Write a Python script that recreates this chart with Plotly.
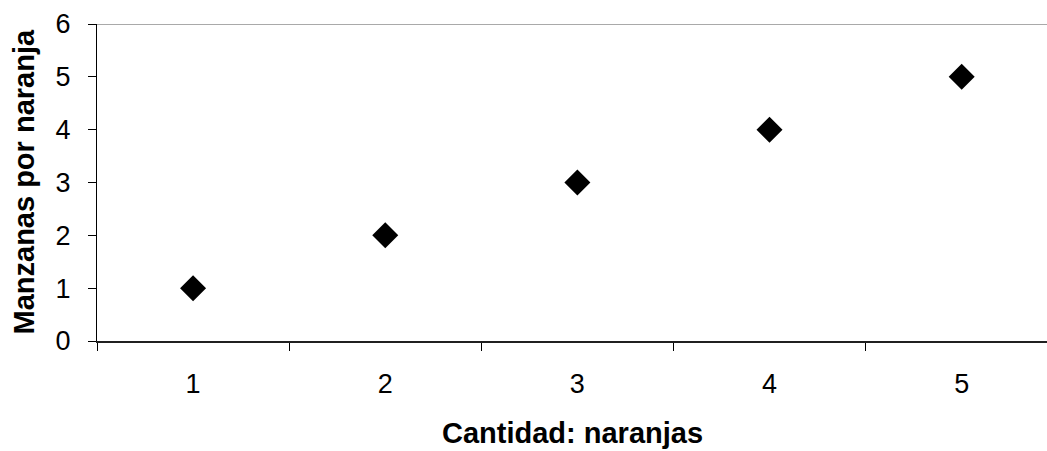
import plotly.graph_objects as go

categories = ["1", "2", "3", "4", "5"]
values = [1, 2, 3, 4, 5]
y_ticks = [0, 1, 2, 3, 4, 5, 6]
x_title = "Cantidad: naranjas"
y_title = "Manzanas por naranja"

FONT = "Liberation Sans, Arial, sans-serif"

fig = go.Figure()
fig.add_trace(go.Scatter(
    x=categories, y=values, mode="markers",
    marker=dict(symbol="diamond", size=20, color="black", line=dict(width=0)),
    showlegend=False,
))

fig.update_layout(
    width=1047, height=451,
    margin=dict(l=97, r=0, t=24, b=110, autoexpand=False),
    paper_bgcolor="white", plot_bgcolor="white",
    font=dict(family=FONT, size=27, color="black"),
    xaxis=dict(
        type="category", range=[-0.5, 4.444], tickson="boundaries",
        ticks="outside", ticklen=8, tickcolor="black", tickwidth=1,
        showline=True, linecolor="#202020", linewidth=1.5,
        showgrid=False, zeroline=False, ticklabelstandoff=18,
        tickfont=dict(size=27),
    ),
    yaxis=dict(
        range=[0, 6], tickvals=y_ticks, ticks="outside", ticklen=8,
        tickcolor="black", tickwidth=1,
        showline=True, linecolor="black", linewidth=1,
        showgrid=False, zeroline=False, ticklabelstandoff=12,
        tickfont=dict(size=27),
    ),
    shapes=[dict(type="line", xref="paper", x0=0, x1=1, yref="y",
                 y0=y_ticks[-1], y1=y_ticks[-1],
                 line=dict(color="#8c8c8c", width=1.5))],
    annotations=[
        dict(text="<b>" + x_title + "</b>", xref="paper", yref="paper",
             x=0.5, y=-0.0, yshift=-92, xanchor="center", yanchor="middle",
             showarrow=False, font=dict(size=29)),
        dict(text="<b>" + y_title + "</b>", xref="paper", yref="paper",
             x=0, xshift=-74, y=0.5, textangle=-90, xanchor="center",
             yanchor="middle", showarrow=False, font=dict(size=29)),
    ],
)

fig.write_html("out.html")
